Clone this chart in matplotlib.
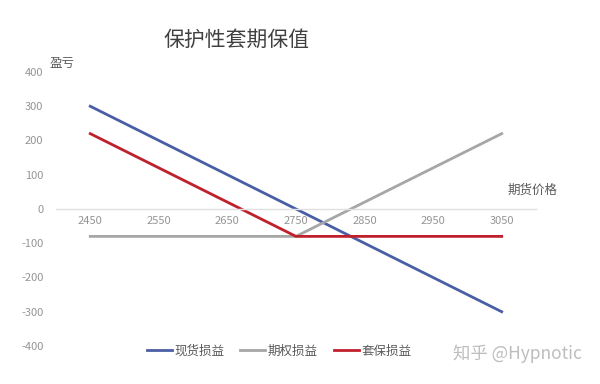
import matplotlib
matplotlib.use("Agg")
import matplotlib.pyplot as plt

plt.rcParams["font.family"] = ["Noto Sans CJK SC", "DejaVu Sans"]

# ── Data ──────────────────────────────────────────────────────────────────────
prices = ["2450", "2550", "2650", "2750", "2850", "2950", "3050"]
spot_pnl = [300, 200, 100, 0, -100, -200, -300]
option_pnl = [-80, -80, -80, -80, 20, 120, 220]
hedge_pnl = [220, 120, 20, -80, -80, -80, -80]
y_ticks = [-400, -300, -200, -100, 0, 100, 200, 300, 400]

COLORS = {"spot": "#4a5ea6", "option": "#a6a6a6", "hedge": "#c0202b"}

fig = plt.figure(figsize=(6, 3.84), dpi=100)
ax = fig.add_axes([0.0933, 0.099, 0.80, 0.7135])

x = range(len(prices))
ax.plot(x, spot_pnl, color=COLORS["spot"], linewidth=2, label="现货损益")
ax.plot(x, option_pnl, color=COLORS["option"], linewidth=2, label="期权损益")
ax.plot(x, hedge_pnl, color=COLORS["hedge"], linewidth=2, label="套保损益")

ax.set_xlim(-0.5, len(prices) - 0.5)
ax.set_ylim(-400, 400)
ax.set_yticks(y_ticks)
ax.set_yticklabels([str(v) for v in y_ticks])
ax.set_xticks(list(x))
ax.set_xticklabels(prices)

for side in ["top", "right", "left"]:
    ax.spines[side].set_visible(False)
ax.spines["bottom"].set_position(("data", 0))
ax.spines["bottom"].set_color("#e0e0e0")
ax.spines["bottom"].set_linewidth(1)
ax.tick_params(axis="both", length=0, labelsize=8, labelcolor="#959595")
ax.tick_params(axis="x", pad=5)
ax.tick_params(axis="y", pad=9)

fig.text(0.272, 0.895, "保护性套期保值", fontsize=15, color="#404040",
         ha="left", va="center")
fig.text(0.083, 0.834, "盈亏", fontsize=9, color="#595959", ha="left", va="center")
fig.text(0.93, 0.505, "期货价格", fontsize=9, color="#595959", ha="right", va="center")

fig.legend(loc="center", bbox_to_anchor=(0.465, 0.086), ncol=3, frameon=False,
           fontsize=9, handlelength=2.0, handletextpad=0.2, columnspacing=1.3,
           labelcolor="#595959")

fig.text(0.755, 0.078, "知乎 @Hypnotic", fontsize=12.5, color="#bdbdbd",
         ha="left", va="center")

fig.savefig("out.png", dpi=100)
